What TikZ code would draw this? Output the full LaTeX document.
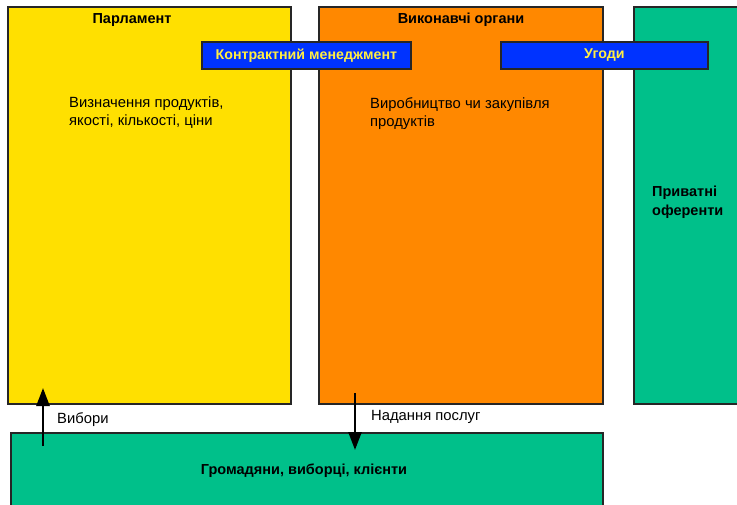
\documentclass[tikz,border=0pt]{standalone}
\usepackage{fontspec}
\setmainfont{Liberation Sans}
\usetikzlibrary{arrows.meta}
\definecolor{yel}{HTML}{FFE000}
\definecolor{org}{HTML}{FF8800}
\definecolor{grn}{HTML}{00C08A}
\definecolor{blu}{HTML}{0033FF}
\definecolor{ytxt}{HTML}{FFEE44}
\tikzset{
  panel/.style={draw=black!85, line width=1.7pt, inner sep=0pt, anchor=north west},
  band/.style={draw=black!85, fill=blu, line width=1.7pt, inner sep=0pt, anchor=north west, text=ytxt, font=\bfseries\fontsize{14.2}{17}\selectfont},
  lbl/.style={font=\fontsize{14.8}{18}\selectfont, align=left, inner sep=0pt},
  blbl/.style={font=\bfseries\fontsize{14.5}{18}\selectfont, inner sep=0pt},
  arr/.style={line width=2.6pt, -{Triangle[length=18pt,width=13pt]}}
}
\begin{document}
\begin{tikzpicture}[x=1pt,y=-1pt]
\useasboundingbox (0,0) rectangle (737,505);
\begin{scope}
\clip (0,0) rectangle (737,505);
\node[panel, fill=yel, minimum width=283pt, minimum height=397pt] (parl) at (7,6) {};
\node[panel, fill=org, minimum width=284pt, minimum height=397pt] (exec) at (318,6) {};
\node[panel, fill=grn, minimum width=120pt, minimum height=397pt] (priv) at (633,6) {};
\node[panel, fill=grn, minimum width=592pt, minimum height=90pt] (cit) at (10,432) {};
\end{scope}
\node[band, minimum width=209pt, minimum height=27pt] (cm) at (201,41) {Контрактний менеджмент};
\node[band, minimum width=207pt, minimum height=27pt] (ug) at (500,41) {Угоди};
\node[blbl] (tparl) at (132,20) {Парламент};
\node[blbl] (texec) at (461,20) {Виконавчі органи};
\node[lbl, anchor=north west] (dparl) at (69,97) {Визначення продуктів,\\якості, кількості, ціни};
\node[lbl, anchor=north west] (dexec) at (370,97) {Виробництво чи закупівля\\продуктів};
\node[blbl, align=left, anchor=north west, font=\bfseries\fontsize{14.5}{19}\selectfont] (tpriv) at (652,186) {Приватні\\оференти};
\node[blbl] (tcit) at (304,471) {Громадяни, виборці, клієнти};
\coordinate (a1s) at (43,446);
\coordinate (a1e) at (43,388);
\coordinate (a2s) at (355,393);
\coordinate (a2e) at (355,450);
\draw[arr] (a1s) -- (a1e);
\draw[arr] (a2s) -- (a2e);
\node[lbl, anchor=west] (vyb) at (57,420) {Вибори};
\node[lbl, anchor=west] (nad) at (371,417) {Надання послуг};
\end{tikzpicture}
\end{document}
